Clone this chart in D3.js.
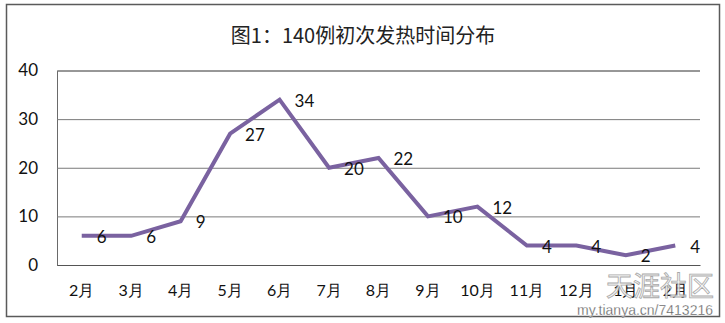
<!DOCTYPE html>
<html><head><meta charset="utf-8">
<script src="https://cdn.jsdelivr.net/npm/d3@7"></script>
<style>body{margin:0;background:#fff}svg{display:block}</style>
</head><body>
<script>
const title = "图1：140例初次发热时间分布";
const categories = ["2月","3月","4月","5月","6月","7月","8月","9月","10月","11月","12月","1月","2月"];
const values = [6,6,9,27,34,20,22,10,12,4,4,2,4];
const yTicks = [0,10,20,30,40];

const W = 725, H = 323;
const svg = d3.select("body").append("svg").attr("width", W).attr("height", H);
svg.append("rect").attr("x",0).attr("y",0).attr("width",W).attr("height",H).attr("fill","#fff");
svg.append("rect").attr("x",6.5).attr("y",4.5).attr("width",713).attr("height",312)
  .attr("fill","none").attr("stroke","#5a5a5a").attr("stroke-width",1.5);

const plot = {l:57, r:700, t:70.5, b:265};
const x = d3.scaleBand().domain(d3.range(categories.length)).range([plot.l, plot.r]);
const y = d3.scaleLinear().domain([0,40]).range([plot.b, plot.t]);
const cx = i => x(i) + x.bandwidth()/2;

svg.append("text").attr("x", 363).attr("y", 43).attr("text-anchor","middle")
  .attr("font-family","'Noto Sans CJK SC'").attr("font-size",20).attr("fill","#222").text(title);

// gridlines
const yAxis = d3.axisLeft(y).tickValues(yTicks).tickSize(-(plot.r-plot.l)).tickPadding(19);
const ga = svg.append("g").attr("transform",`translate(${plot.l},0)`).call(yAxis);
ga.select(".domain").attr("stroke","#6a6a6a");
ga.selectAll(".tick line").attr("stroke","#7a7a7a").attr("stroke-width",1);
ga.selectAll(".tick text").attr("font-family","Lato").attr("font-size",17).attr("fill","#111");

const xAxis = d3.axisBottom(x).tickFormat(i => categories[i]).tickSize(0).tickPadding(20);
const gx = svg.append("g").attr("transform",`translate(0,${plot.b})`).call(xAxis);
gx.select(".domain").attr("stroke","#555").attr("stroke-width",1.2);
gx.selectAll(".tick text").attr("font-family","Lato").attr("font-size",16).attr("fill","#111");

const line = d3.line().x((d,i)=>cx(i)).y(d=>y(d));
svg.append("path").datum(values).attr("d",line).attr("fill","none")
  .attr("stroke","#7a62a0").attr("stroke-width",4).attr("stroke-linejoin","miter");

svg.append("g").selectAll("text").data(values).join("text")
  .attr("x",(d,i)=>cx(i)+15).attr("y",d=>y(d)+7)
  .attr("font-family","Lato").attr("font-size",17).attr("fill","#111").text(d=>d);

// watermark
svg.append("text").attr("x",714).attr("y",296).attr("text-anchor","end")
  .attr("font-family","'Noto Sans CJK SC'").attr("font-size",27).attr("fill","#f4f4f4")
  .attr("stroke","#9a9a9a").attr("stroke-width",0.8).attr("opacity",0.85).text("天涯社区");
svg.append("text").attr("x",713).attr("y",315).attr("text-anchor","end")
  .attr("font-family","'Liberation Sans'").attr("font-size",14).attr("fill","#555")
  .attr("stroke","#fff").attr("stroke-width",0.3).text("my.tianya.cn/7413216");
</script>
</body></html>
